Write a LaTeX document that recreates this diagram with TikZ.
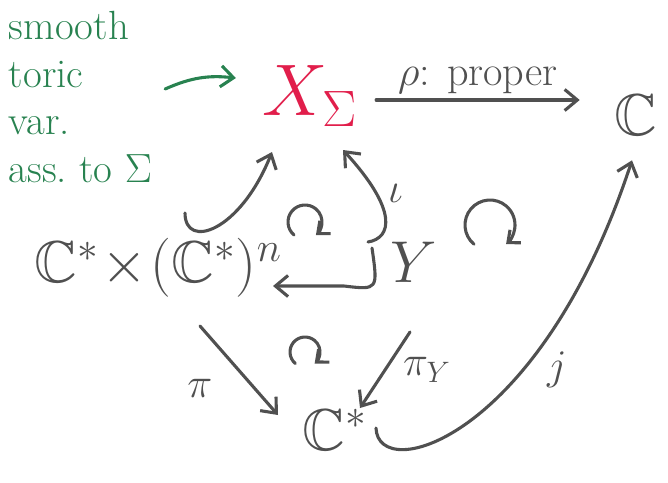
\RequirePackage{fix-cm}
\documentclass[tikz,border=0pt]{standalone}
\usepackage{amssymb}
\usetikzlibrary{positioning,arrows.meta}
\definecolor{ink}{RGB}{80,80,80}
\definecolor{greenink}{RGB}{40,130,80}
\definecolor{redink}{RGB}{225,30,75}

\begin{document}
\begin{tikzpicture}[x=0.025cm,y=-0.025cm,
  obj/.style={text=ink,font=\fontsize{42}{48}\selectfont},
  lab/.style={text=ink,font=\fontsize{30}{34}\selectfont},
  arr/.style={draw=ink,line width=2.2pt,line cap=round,-{Straight Barb[length=9pt,width=15pt]}}]
\useasboundingbox (0,0) rectangle (668,482);

\node (xs) [obj,text=redink,font=\fontsize{52}{58}\selectfont] at (310,96) {$X_\Sigma$};
\node (c) [obj] at (636,115) {$\mathbb{C}$};
\node (y) [obj] at (414,262) {$Y$};
\node (cc) [obj] at (158,268) {$\mathbb{C}^*\!\times\!(\mathbb{C}^*)^n$};
\node (cs) [obj] at (335,430) {$\mathbb{C}^*$};
\node (note) [text=greenink,font=\fontsize{29}{34}\selectfont,align=left,anchor=north west] at (4,6) {smooth\\toric\\var.\\ass.\ to $\Sigma$};

\draw[arr,draw=greenink] ([shift={(8,-8)}]note.east) to[bend left=15] ([shift={(-22,-18)}]xs.west);
\draw[arr] ([shift={(14,4)}]xs.east) -- node[lab,above=0pt]{$\rho$: proper} ([shift={(-30,4)}]xs.east -| c.west);
\draw[arr] ([shift={(27,-55)}]cc.center) .. controls (185,250) and (240,232) .. ([shift={(-38,56)}]xs.center);
\draw[arr] ([shift={(-46,-20)}]y.center) .. controls (392,238) and (398,210) .. node[lab,pos=0.72,right=0.15cm]{$\iota$} ([shift={(33,54)}]xs.center);
\draw[arr] ([shift={(-42,-14)}]y.center) .. controls (378,290) .. ([shift={(-70,24)}]y.center) -- ([shift={(115,18)}]cc.center);
\draw[arr] ([shift={(42,58)}]cc.center) -- node[lab,pos=0.7,left=0.9cm]{$\pi$} ([shift={(-57,-15)}]cs.center);
\draw[arr] ([shift={(-4,70)}]y.center) -- node[lab,pos=0.5,right=0.3cm]{$\pi_Y$} ([shift={(25,-22)}]cs.center);
\draw[arr] ([shift={(4,-2)}]cs.east) .. controls (378,485) and (540,440) .. node[lab,pos=0.66,right=0.45cm]{$j$} ([shift={(-4,20)}]c.south);

\foreach \cx/\cy/\r in {305/222/17, 305/352/15, 490/225/25}
  \draw[arr,-{Straight Barb[length=7pt,width=12pt]}] ([shift={(-230:\r)}]\cx,\cy) arc[start angle=-230,end angle=50,radius=\r];

\end{tikzpicture}
\end{document}
